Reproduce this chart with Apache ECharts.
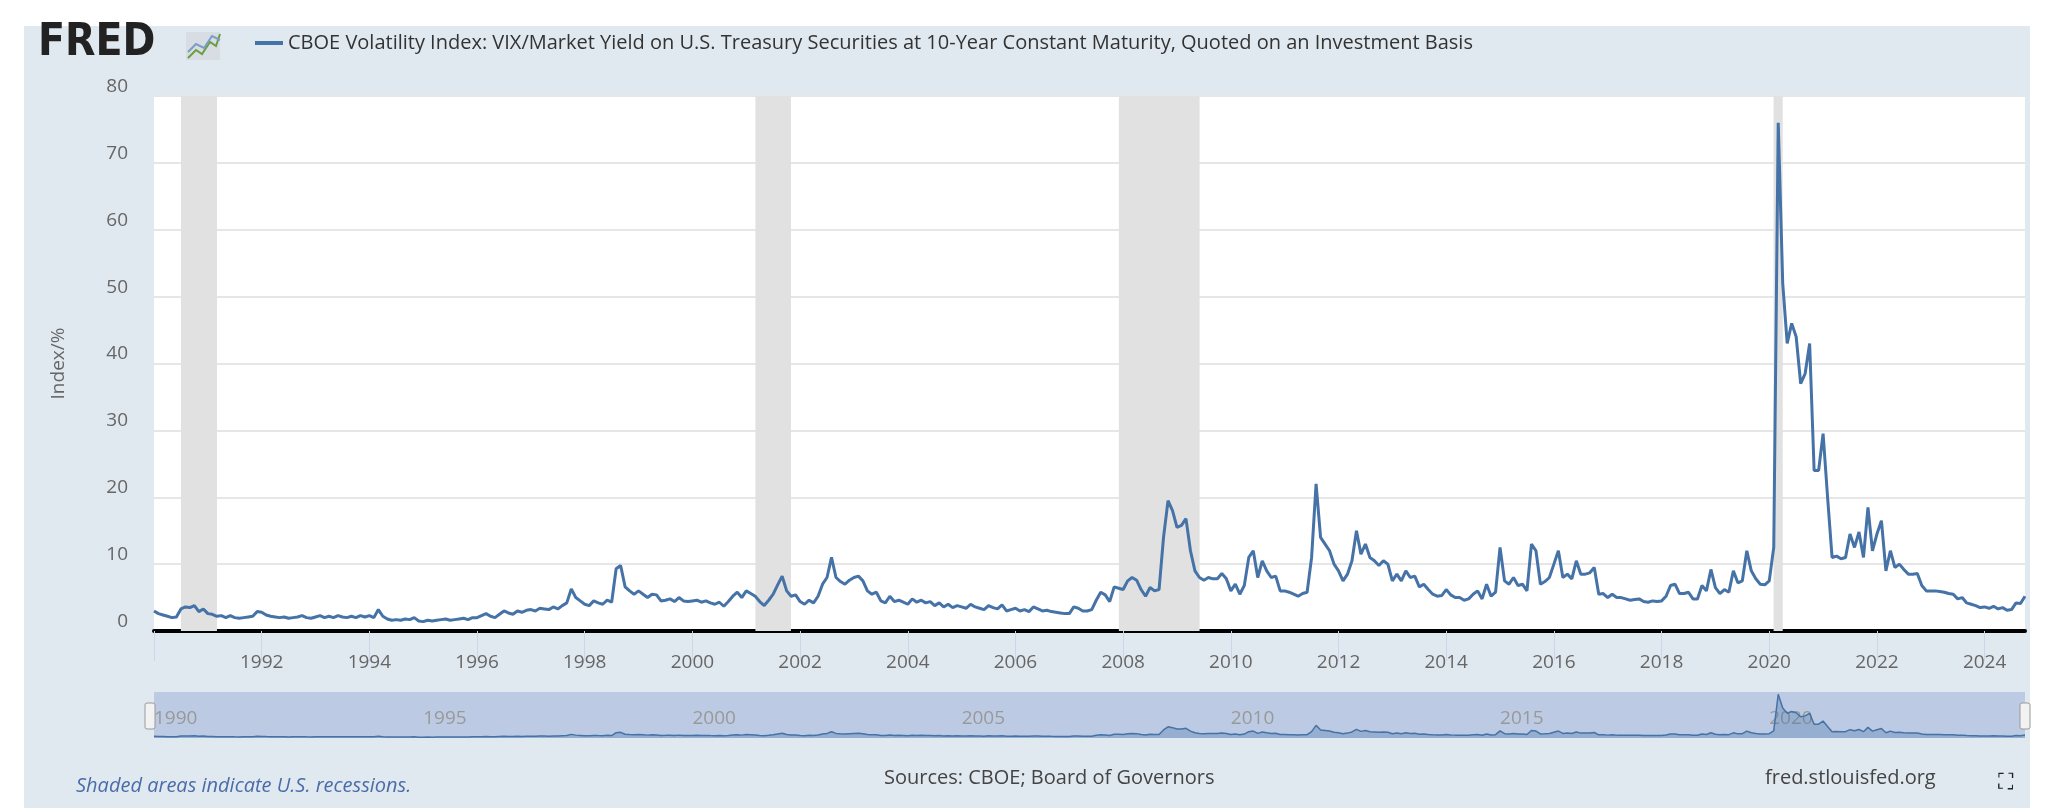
<!DOCTYPE html>
<html>
<head>
<meta charset="utf-8">
<script src="https://cdn.jsdelivr.net/npm/echarts@6/dist/echarts.min.js"></script>
<style>
  html, body { margin: 0; padding: 0; background: #fff; }
  #chart { width: 2068px; height: 808px; }
</style>
</head>
<body>
<div id="chart"></div>
<script>
var startYear = 1990;
// monthly values, Jan 1990 .. Oct 2024
var vix = [
  3.0,2.6,2.4,2.2,2.0,2.1,3.3,3.6,3.5,3.8,2.9,3.3,
  2.6,2.5,2.2,2.3,2.0,2.3,2.0,1.9,2.0,2.1,2.2,2.9,
  2.8,2.4,2.2,2.1,2.0,2.1,1.9,2.0,2.1,2.3,2.0,1.9,
  2.1,2.3,2.0,2.2,2.0,2.3,2.1,2.0,2.2,2.0,2.3,2.1,
  2.3,2.0,3.2,2.2,1.8,1.6,1.7,1.6,1.8,1.7,2.0,1.5,
  1.4,1.6,1.5,1.6,1.7,1.8,1.6,1.7,1.8,1.9,1.7,2.0,
  2.0,2.3,2.6,2.2,2.0,2.5,3.0,2.7,2.5,3.0,2.8,3.1,
  3.2,3.0,3.4,3.3,3.2,3.6,3.3,3.8,4.2,6.3,5.0,4.5,
  4.0,3.8,4.5,4.2,4.0,4.6,4.3,9.3,9.8,6.6,6.0,5.5,
  6.0,5.5,5.0,5.5,5.4,4.5,4.6,4.8,4.4,5.0,4.5,4.4,
  4.5,4.6,4.3,4.5,4.2,4.0,4.3,3.7,4.4,5.2,5.8,5.0,
  6.0,5.6,5.2,4.4,3.8,4.6,5.5,6.9,8.2,6.0,5.2,5.4,
  4.4,4.0,4.6,4.2,5.2,7.0,8.0,11.0,8.0,7.4,7.0,7.6,
  8.0,8.2,7.5,6.0,5.5,5.8,4.5,4.2,5.2,4.4,4.6,4.3,
  4.0,4.8,4.3,4.6,4.2,4.4,3.8,4.2,3.6,4.0,3.5,3.8,
  3.6,3.4,4.0,3.6,3.4,3.2,3.8,3.5,3.3,3.9,3.0,3.2,
  3.4,3.0,3.2,2.9,3.6,3.3,3.0,3.1,2.9,2.8,2.7,2.6,
  2.6,3.6,3.4,3.0,3.0,3.2,4.6,5.8,5.4,4.4,6.6,6.4,
  6.2,7.5,8.0,7.6,6.2,5.2,6.5,6.0,6.2,14.0,19.5,18.0,
  15.5,15.8,16.8,12.0,9.0,8.0,7.6,8.0,7.8,7.8,8.6,7.8,
  6.0,7.0,5.5,6.8,11.0,12.0,8.0,10.5,9.0,8.0,8.2,6.0,
  6.0,5.8,5.5,5.2,5.6,5.8,11.0,22.0,14.0,13.0,12.0,10.0,
  9.0,7.5,8.5,10.5,15.0,11.5,13.0,11.0,10.5,9.8,10.5,10.0,
  7.5,8.5,7.5,9.0,8.0,8.2,6.6,7.0,6.2,5.5,5.2,5.3,
  6.2,5.4,5.0,5.0,4.6,4.8,5.5,6.0,4.8,7.0,5.2,5.8,
  12.5,7.5,7.0,8.0,6.8,7.0,6.0,13.0,12.0,7.0,7.4,8.0,
  10.0,12.0,8.0,8.5,7.8,10.5,8.5,8.5,8.7,9.5,5.5,5.6,
  5.0,5.5,5.0,5.0,4.8,4.6,4.7,4.8,4.4,4.3,4.5,4.4,
  4.5,5.2,6.8,7.0,5.6,5.6,5.8,4.8,4.8,6.8,6.0,9.2,
  6.5,5.6,6.2,5.8,9.0,7.2,7.5,12.0,9.0,7.8,7.0,6.9,
  7.5,12.5,76.0,52.0,43.0,46.0,44.0,37.0,38.5,43.0,24.0,24.0,
  29.5,20.0,11.0,11.2,10.8,11.0,14.5,12.5,14.8,11.0,18.5,12.0,
  14.5,16.5,9.0,12.0,9.5,10.0,9.2,8.5,8.5,8.6,6.8,6.0,
  6.0,6.0,5.9,5.8,5.6,5.5,4.8,5.0,4.2,4.0,3.8,3.5,
  3.6,3.4,3.7,3.3,3.5,3.1,3.2,4.2,4.1,5.2
];
// recessions as [start, end] in decimal years
var recessions = [[1990.5, 1991.17], [2001.17, 2001.83], [2007.92, 2009.42], [2020.08, 2020.25]];
var seriesName = 'CBOE Volatility Index: VIX/Market Yield on U.S. Treasury Securities at 10-Year Constant Maturity, Quoted on an Investment Basis';

var points = vix.map(function (v, i) { return [startYear + i / 12, v]; });
var xMax = startYear + (vix.length - 1) / 12;

var chart = echarts.init(document.getElementById('chart'));
var font = 'Open Sans, sans-serif';
var option = {
  animation: false,
  textStyle: { fontFamily: font },
  legend: {
    left: 250, top: 28,
    icon: 'rect', itemWidth: 28, itemHeight: 4, itemGap: 10,
    textStyle: { fontSize: 20, color: '#333', fontFamily: font },
    data: [seriesName]
  },
  grid: [
    { left: 154, right: 43, top: 96, bottom: 177, backgroundColor: '#fff', show: true, borderWidth: 0 },
    { left: 154, right: 43, top: 692, height: 46, backgroundColor: '#bccbe3', show: true, borderWidth: 0 }
  ],
  xAxis: [{
    type: 'value', gridIndex: 0, min: startYear, max: xMax, interval: 2,
    splitLine: { show: false },
    axisLine: { lineStyle: { color: '#000', width: 4 } },
    axisTick: { show: true, length: 30, lineStyle: { color: '#ccd6eb', width: 1 } },
    axisLabel: {
      color: '#666', fontSize: 19, margin: 22,
      formatter: function (v) { return v === startYear ? '' : String(v); }
    }
  }, {
    type: 'value', gridIndex: 1, min: startYear, max: xMax, interval: 5,
    splitLine: { show: false }, axisLine: { show: false }, axisTick: { show: false },
    axisLabel: {
      inside: true, align: 'left', verticalAlign: 'bottom', margin: 10, color: '#999', fontSize: 19,
      showMaxLabel: false,
      formatter: function (v) { return v % 5 === 0 ? String(v) : ''; }
    }
  }],
  yAxis: [{
    type: 'value', gridIndex: 0, min: 0, max: 80, interval: 10,
    name: 'Index/%', nameLocation: 'middle', nameGap: 86, nameRotate: 90,
    nameTextStyle: { color: '#666', fontSize: 19 },
    axisLine: { show: false }, axisTick: { show: false },
    axisLabel: { color: '#666', fontSize: 19, margin: 26, verticalAlign: 'bottom' },
    splitLine: { lineStyle: { color: '#e6e6e6', width: 2 } }
  }, {
    type: 'value', gridIndex: 1, min: 0, max: 80, show: false
  }],
  series: [{
    name: seriesName, type: 'line', xAxisIndex: 0, yAxisIndex: 0,
    data: points, showSymbol: false, symbol: 'none',
    lineStyle: { color: '#4572a7', width: 3 }, itemStyle: { color: '#4572a7' },
    markArea: {
      silent: true,
      itemStyle: { color: '#e1e1e1' },
      data: recessions.map(function (r) { return [{ xAxis: r[0] }, { xAxis: r[1] }]; })
    },
    z: 3
  }, {
    type: 'line', xAxisIndex: 1, yAxisIndex: 1, data: points, symbol: 'none',
    lineStyle: { color: '#4572a7', width: 1.5 },
    areaStyle: { color: 'rgba(69,114,167,0.45)' }
  }],
  graphic: [
    { type: 'rect', z: -10, shape: { x: 24, y: 26, width: 2006, height: 782 }, style: { fill: '#e1e9f0' } },
    { type: 'text', left: 38, top: 22, style: { text: 'FRED', font: 'bold 44px "DejaVu Sans Condensed", "Liberation Sans Narrow", sans-serif', fill: '#222' } },
    { type: 'rect', shape: { x: 186, y: 32, width: 34, height: 28 }, style: { fill: '#d8dde4' } },
    { type: 'polyline', shape: { points: [[188, 58], [196, 50], [202, 54], [210, 42], [216, 46], [220, 34]] }, style: { stroke: '#6b9e3f', lineWidth: 2, fill: null } },
    { type: 'polyline', shape: { points: [[188, 52], [196, 44], [204, 48], [212, 36], [220, 40]] }, style: { stroke: '#7a9ec8', lineWidth: 2, fill: null } },
    { type: 'rect', shape: { x: 145, y: 703, width: 10, height: 26, r: 2 }, style: { fill: '#f2f2f2', stroke: '#999', lineWidth: 1 } },
    { type: 'rect', shape: { x: 2020, y: 703, width: 10, height: 26, r: 2 }, style: { fill: '#f2f2f2', stroke: '#999', lineWidth: 1 } },
    { type: 'text', left: 76, top: 776, style: { text: 'Shaded areas indicate U.S. recessions.', font: 'italic 20px "Open Sans", sans-serif', fill: '#4a6ca8' } },
    { type: 'text', left: 884, top: 768, style: { text: 'Sources: CBOE; Board of Governors', font: '20px "Open Sans", sans-serif', fill: '#444' } },
    { type: 'text', left: 1765, top: 768, style: { text: 'fred.stlouisfed.org', font: '20px "Open Sans", sans-serif', fill: '#444' } },
    { type: 'text', left: 1998, top: 772, style: { text: '\u26F6', font: '22px "DejaVu Sans", sans-serif', fill: '#222' } }
  ]
};
chart.setOption(option);
</script>
</body>
</html>
